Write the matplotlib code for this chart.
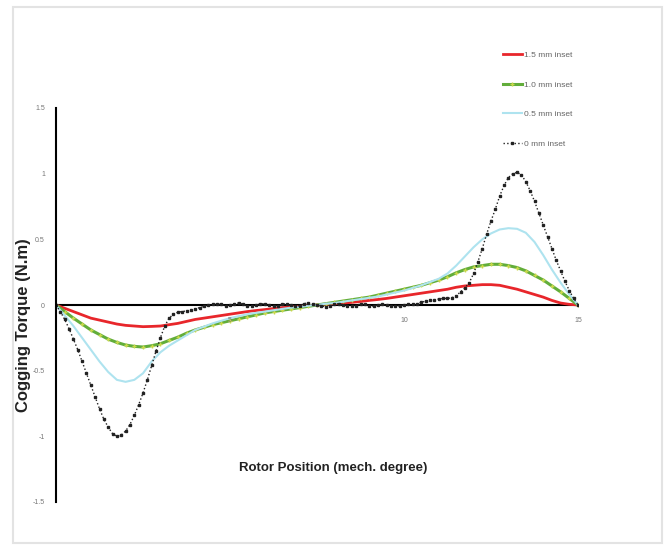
import matplotlib
matplotlib.use("Agg")
import matplotlib.pyplot as plt
import numpy as np
from matplotlib.patches import Rectangle

plt.rcParams['font.family'] = ['Liberation Sans', 'DejaVu Sans']

# rotor position (mech. degree)
x_fine = np.arange(0, 15.001, 0.125)
x_mid = np.arange(0, 15.001, 0.25)

# 0 mm inset, read every 0.125 deg
inset_0 = [0.0, -0.05, -0.11, -0.18, -0.26, -0.34, -0.43, -0.52, -0.61, -0.70,
           -0.79, -0.87, -0.93, -0.98, -1.00, -0.99, -0.96, -0.91, -0.84, -0.76,
           -0.67, -0.57, -0.46, -0.35, -0.25, -0.16, -0.10, -0.07, -0.055, -0.05,
           -0.045, -0.04, -0.03, -0.02, -0.01, 0.0, 0.005, 0.01, 0.005, -0.005,
           0.0, 0.01, 0.015, 0.005, -0.005, -0.01, 0.0, 0.01, 0.01, 0.0,
           -0.01, -0.005, 0.005, 0.01, 0.0, -0.01, -0.005, 0.01, 0.015, 0.005,
           0.0, -0.005, -0.015, -0.01, 0.005, 0.01, 0.0, -0.01, -0.01, -0.005,
           0.01, 0.005, -0.01, -0.01, 0.0, 0.005, 0.0, -0.005, -0.01, -0.005,
           0.0, 0.005, 0.01, 0.01, 0.02, 0.03, 0.035, 0.04, 0.045, 0.05,
           0.05, 0.055, 0.07, 0.10, 0.13, 0.17, 0.24, 0.33, 0.43, 0.54,
           0.64, 0.73, 0.83, 0.91, 0.97, 1.00, 1.01, 0.99, 0.94, 0.87,
           0.79, 0.70, 0.61, 0.52, 0.43, 0.34, 0.26, 0.18, 0.11, 0.05,
           0.0]

# the other three, read every 0.25 deg
inset_15 = [0.0, -0.025, -0.05, -0.075, -0.10, -0.115, -0.13, -0.145, -0.155, -0.16,
            -0.165, -0.163, -0.16, -0.15, -0.14, -0.125, -0.11, -0.10, -0.09, -0.08,
            -0.07, -0.06, -0.05, -0.042, -0.035, -0.027, -0.02, -0.015, -0.01, -0.005,
            0.0, 0.005, 0.01, 0.015, 0.02, 0.027, 0.035, 0.042, 0.05, 0.06,
            0.07, 0.08, 0.09, 0.10, 0.11, 0.12, 0.135, 0.145, 0.15, 0.155,
            0.155, 0.15, 0.135, 0.12, 0.10, 0.08, 0.06, 0.035, 0.015, 0.005,
            0.0]
inset_10 = [0.0, -0.05, -0.10, -0.145, -0.19, -0.225, -0.26, -0.285, -0.305, -0.315,
            -0.32, -0.31, -0.295, -0.27, -0.245, -0.215, -0.19, -0.17, -0.15, -0.135,
            -0.12, -0.105, -0.09, -0.075, -0.06, -0.05, -0.04, -0.03, -0.02, -0.01,
            0.0, 0.01, 0.02, 0.03, 0.04, 0.05, 0.06, 0.075, 0.09, 0.105,
            0.12, 0.135, 0.15, 0.17, 0.19, 0.215, 0.245, 0.27, 0.29, 0.30,
            0.31, 0.31, 0.30, 0.285, 0.26, 0.225, 0.19, 0.145, 0.10, 0.05,
            0.0]
inset_05 = [0.0, -0.08, -0.16, -0.25, -0.34, -0.43, -0.51, -0.57, -0.585, -0.57,
            -0.52, -0.43, -0.36, -0.31, -0.27, -0.23, -0.19, -0.165, -0.14, -0.12,
            -0.10, -0.085, -0.07, -0.06, -0.05, -0.04, -0.03, -0.02, -0.015, -0.005,
            0.0, 0.01, 0.015, 0.025, 0.035, 0.045, 0.055, 0.065, 0.08, 0.095,
            0.11, 0.13, 0.15, 0.175, 0.20, 0.24, 0.30, 0.37, 0.44, 0.50,
            0.545, 0.575, 0.585, 0.58, 0.55, 0.48, 0.38, 0.27, 0.17, 0.08,
            0.0]

fig = plt.figure(figsize=(6.67, 5.46), dpi=100)
fig.patch.set_facecolor('white')
# light frame around the picture
fig.patches.append(Rectangle((13 / 667, 1 - 543 / 546), 649 / 667, 536 / 546,
                             transform=fig.transFigure, fill=False,
                             edgecolor='#e3e3e3', linewidth=1.5))

ax = fig.add_axes([56 / 667, 1 - 502 / 546, 522 / 667, 394 / 546])

ax.plot(x_mid, inset_15, color='#e8262b', linewidth=2, label='1.5 mm inset')
ax.plot(x_mid, inset_10, color='#62ad3a', linewidth=2.2, marker='+',
        markersize=3, markeredgecolor='#c8d84a', label='1.0 mm inset')
ax.plot(x_mid, inset_05, color='#aee3ef', linewidth=1.5, label='0.5 mm inset')
ax.plot(x_fine, inset_0, color='#222222', linewidth=1, linestyle=':',
        marker='s', markersize=2, label='0 mm inset')

ax.axhline(0, color='black', linewidth=1.5, zorder=1)

ax.set_xlim(0, 15)
ax.set_ylim(-1.5, 1.5)
ax.set_axisbelow(False)
ax.set_xticks([5, 10, 15])
ax.set_yticks([-1.5, -1, -0.5, 0, 0.5, 1, 1.5])
ax.set_yticklabels(['-1.5', '-1', '-0.5', '0', '0.5', '1', '1.5'])
for s in ['top', 'right', 'bottom']:
    ax.spines[s].set_visible(False)
ax.spines['left'].set_linewidth(1.5)
ax.tick_params(axis='both', length=0, labelsize=5, labelcolor='#777777')
ax.tick_params(axis='x', pad=-133)
ax.tick_params(axis='y', pad=8)

ax.set_ylabel('Cogging Torque (N.m)', fontsize=12, fontweight='bold',
              color='#222222')
ax.yaxis.set_label_coords(-0.047, 0.45)
fig.text(0.5, 1 - 468 / 546, 'Rotor Position (mech. degree)', fontsize=9.5,
         fontweight='bold', color='#222222', ha='center', va='center')

fig.legend(loc='upper left', bbox_to_anchor=(500 / 667, 1 - 48 / 546),
           frameon=False, fontsize=6, labelcolor='#666666', handlelength=2.2,
           handletextpad=0.3, labelspacing=2.6, borderaxespad=0)

fig.savefig('out.png', dpi=100)
